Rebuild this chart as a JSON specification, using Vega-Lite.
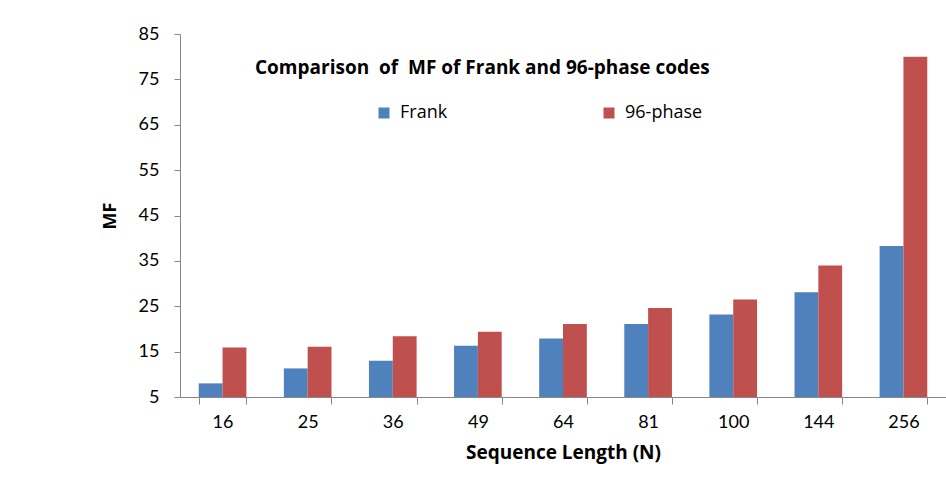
{
  "$schema": "https://vega.github.io/schema/vega-lite/v6.json",
  "width": 766,
  "height": 363,
  "autosize": "none",
  "padding": {"left": 180, "top": 34, "right": 0, "bottom": 91},
  "background": "white",
  "title": {
    "text": "Comparison \u00a0of \u00a0MF of Frank and 96-phase codes",
    "anchor": "start",
    "frame": "group",
    "dx": 75,
    "dy": 57,
    "font": "Open Sans",
    "fontSize": 19,
    "fontWeight": "bold",
    "color": "#000000"
  },
  "data": {
    "values": [
      {"N": 16, "code": "Frank", "MF": 8.0},
      {"N": 16, "code": "96-phase", "MF": 15.9},
      {"N": 25, "code": "Frank", "MF": 11.3},
      {"N": 25, "code": "96-phase", "MF": 16.1},
      {"N": 36, "code": "Frank", "MF": 13.0},
      {"N": 36, "code": "96-phase", "MF": 18.4},
      {"N": 49, "code": "Frank", "MF": 16.3},
      {"N": 49, "code": "96-phase", "MF": 19.4},
      {"N": 64, "code": "Frank", "MF": 17.9},
      {"N": 64, "code": "96-phase", "MF": 21.1},
      {"N": 81, "code": "Frank", "MF": 21.1},
      {"N": 81, "code": "96-phase", "MF": 24.6},
      {"N": 100, "code": "Frank", "MF": 23.2},
      {"N": 100, "code": "96-phase", "MF": 26.5},
      {"N": 144, "code": "Frank", "MF": 28.1},
      {"N": 144, "code": "96-phase", "MF": 34.0},
      {"N": 256, "code": "Frank", "MF": 38.3},
      {"N": 256, "code": "96-phase", "MF": 80.0}
    ]
  },
  "mark": {"type": "bar"},
  "encoding": {
    "x": {
      "field": "N",
      "type": "ordinal",
      "scale": {"paddingInner": 0.44, "paddingOuter": 0.22},
      "axis": {
        "title": "Sequence Length (N)",
        "titleFont": "Open Sans",
        "titleFontSize": 19,
        "titleFontWeight": "bold",
        "titleColor": "#000000",
        "titlePadding": 12,
        "labelAngle": 0,
        "labelFont": "Lato",
        "labelFontSize": 18,
        "labelColor": "#000000",
        "labelPadding": 9,
        "tickBand": "extent",
        "tickSize": 7,
        "tickColor": "#888888",
        "domainColor": "#888888",
        "grid": false,
        "zindex": 1
      }
    },
    "xOffset": {
      "field": "code",
      "type": "nominal",
      "sort": ["Frank", "96-phase"],
      "scale": {"paddingInner": 0, "paddingOuter": 0}
    },
    "y": {
      "field": "MF",
      "type": "quantitative",
      "scale": {"domain": [5, 85], "zero": false, "nice": false},
      "axis": {
        "title": "MF",
        "titleFont": "Open Sans",
        "titleFontSize": 18,
        "titleFontWeight": "bold",
        "titleColor": "#000000",
        "titlePadding": 19,
        "values": [5, 15, 25, 35, 45, 55, 65, 75, 85],
        "labelFont": "Lato",
        "labelFontSize": 18,
        "labelColor": "#000000",
        "labelPadding": 15,
        "tickSize": 6,
        "tickColor": "#888888",
        "domainColor": "#888888",
        "grid": false
      }
    },
    "y2": {"datum": 5},
    "color": {
      "field": "code",
      "type": "nominal",
      "sort": ["Frank", "96-phase"],
      "scale": {"domain": ["Frank", "96-phase"], "range": ["#4F81BD", "#C0504D"]},
      "legend": {
        "title": null,
        "orient": "none",
        "legendX": 195,
        "legendY": 70,
        "direction": "horizontal",
        "symbolType": "square",
        "symbolSize": 121,
        "symbolStrokeWidth": 0,
        "labelFont": "Open Sans",
        "labelFontSize": 18,
        "labelColor": "#000000",
        "labelOffset": 7,
        "columnPadding": 152
      }
    }
  },
  "config": {
    "view": {"stroke": null}
  }
}
